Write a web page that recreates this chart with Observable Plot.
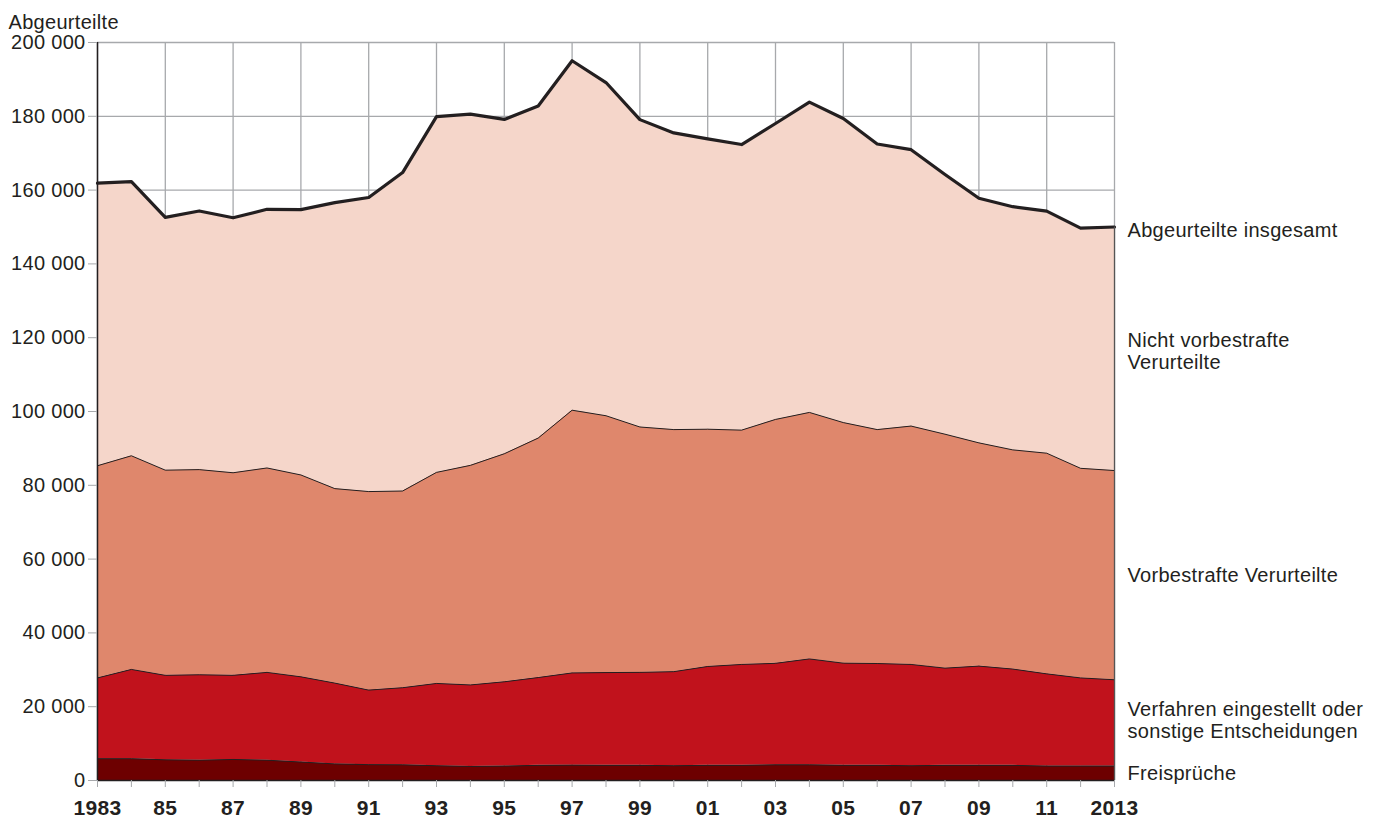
<!DOCTYPE html>
<html><head><meta charset="utf-8">
<script src="https://cdn.jsdelivr.net/npm/d3@7"></script>
<script src="https://cdn.jsdelivr.net/npm/@observablehq/plot@0.6"></script>
<style>
body{margin:0;background:#fff;}
#chart{width:1374px;height:819px;}
svg text{letter-spacing:0.3px;}
</style></head><body><div id="chart"></div>
<script>
const years = [1983,1984,1985,1986,1987,1988,1989,1990,1991,1992,1993,1994,1995,1996,1997,1998,1999,2000,2001,2002,2003,2004,2005,2006,2007,2008,2009,2010,2011,2012,2013];
const freisprueche = [5900,5900,5600,5500,5700,5500,5000,4500,4300,4250,4000,3800,3900,4100,4150,4100,4100,4000,4100,4100,4250,4250,4100,4100,4000,4100,4100,4100,3900,3900,3900];
const verfahren = [21900,24200,22900,23150,22800,23800,23100,21900,20200,20900,22300,22100,22850,23800,25000,25150,25200,25500,26800,27350,27500,28700,27700,27600,27450,26350,26900,26100,25000,23900,23400];
const vorbestrafte = [57500,57900,55600,55600,54900,55400,54700,52700,53800,53300,57200,59500,61800,64900,71200,69600,66500,65600,64300,63500,66100,66800,65200,63400,64600,63400,60500,59400,59800,56800,56700];
const nichtVorbestrafte = [76600,74300,68500,70100,69100,70100,71900,77500,79700,86300,96400,95200,90600,90000,94700,90300,83300,80400,78700,77400,80200,84100,82400,77400,74900,70400,66300,65900,65600,65100,66000];

const seriesNames = ["Freisprüche","Verfahren eingestellt oder\nsonstige Entscheidungen","Vorbestrafte Verurteilte","Nicht vorbestrafte\nVerurteilte"];
const seriesColors = ["#6d0000","#c1121c","#df876c","#f5d6ca"];
const totalLabel = "Abgeurteilte insgesamt";
const yAxisTitle = "Abgeurteilte";
const yTicks = [0,20000,40000,60000,80000,100000,120000,140000,160000,180000,200000];
const xLabelYears = [1983,1985,1987,1989,1991,1993,1995,1997,1999,2001,2003,2005,2007,2009,2011,2013];
const xTickLabels = ["1983","85","87","89","91","93","95","97","99","01","03","05","07","09","11","2013"];

const seriesValues = [freisprueche, verfahren, vorbestrafte, nichtVorbestrafte];
const long = [];
seriesValues.forEach((vals, i) => vals.forEach((v, j) => long.push({year: years[j], series: seriesNames[i], value: v})));
const totals = years.map((y, j) => ({year: y, total: seriesValues.reduce((s, a) => s + a[j], 0)}));
const last = years.length - 1;
const labelRows = [];
let base = 0;
const labelShift = [0, -3, 0, 2];
seriesValues.forEach((vals, i) => { labelRows.push({label: seriesNames[i], y: base + vals[last] / 2, shift: labelShift[i]}); base += vals[last]; });
labelRows.push({label: totalLabel, y: totals[last].total, shift: 3});

const grey = "#a7a9ac", ink = "#231f20";
const labelMap = new Map(xLabelYears.map((y, i) => [y, xTickLabels[i]]));

const chart = Plot.plot({
  width: 1374, height: 819,
  marginLeft: 97, marginRight: 260, marginTop: 42, marginBottom: 39,
  x: {domain: [1983, 2013]},
  y: {domain: [0, 200000]},
  color: {domain: seriesNames, range: seriesColors},
  style: {fontFamily: "'Liberation Sans', Arial, sans-serif", fontSize: "20px", color: ink, background: "#fff"},
  marks: [
    Plot.ruleY(yTicks.slice(1), {stroke: grey, strokeWidth: 1.3}),
    Plot.ruleX(xLabelYears, {stroke: grey, strokeWidth: 1.3}),
    Plot.areaY(long, {x: "year", y: "value", z: "series", fill: "series"}),
    Plot.lineY(long, Plot.stackY2({x: "year", y: "value", z: "series", stroke: ink, strokeWidth: 1})),
    Plot.lineY(totals, {x: "year", y: "total", stroke: ink, strokeWidth: 3.2}),
    Plot.ruleX([2013], {y1: 0, y2: totals[last].total, stroke: "#555", strokeWidth: 1.3}),
    Plot.ruleX([1983], {stroke: ink, strokeWidth: 1.5}),
    Plot.ruleY([0], {stroke: ink, strokeWidth: 1.5}),
    Plot.axisY({ticks: yTicks, tickFormat: d => d3.format(",")(d).replace(/,/g, " "), tickSize: 9, tickPadding: 3, stroke: grey, fill: ink, fontSize: 20, label: null}),
    Plot.axisX({ticks: years, tickFormat: d => labelMap.get(d) ?? "", tickSize: 7, tickPadding: 13, stroke: grey, fill: ink, fontSize: 21, fontWeight: "bold", label: null}),
    ...labelRows.map(r => Plot.text([r], {x: () => 2013, y: "y", text: "label", textAnchor: "start", dx: 13, dy: r.shift, fill: ink, fontSize: 20, lineHeight: 1.1})),
    Plot.text([yAxisTitle], {frameAnchor: "top-left", dx: -89, dy: -20, textAnchor: "start", lineAnchor: "middle", fill: ink, fontSize: 20})
  ]
});
document.getElementById("chart").append(chart);
</script>
</body></html>
